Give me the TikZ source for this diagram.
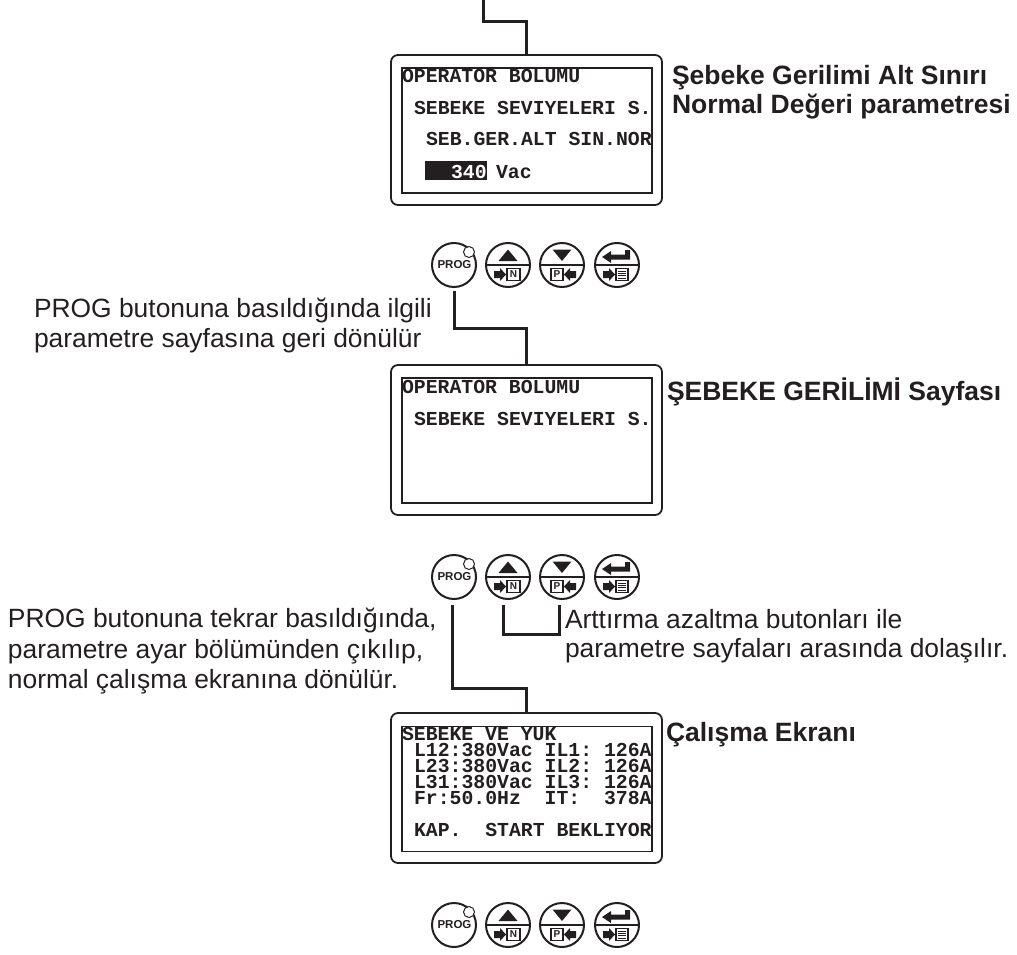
\documentclass[tikz,border=0pt]{standalone}
\usepackage{fontspec}
\setmainfont{Liberation Sans}
\newfontfamily\lcdfont{Liberation Mono}
\definecolor{ink}{HTML}{231F20}
\tikzset{
  panel/.style={draw=ink,line width=1.8pt,rounded corners=7pt,minimum width=271pt,minimum height=150pt,inner sep=0pt,outer sep=0pt},
  screen/.style={draw=ink,line width=1.1pt,minimum width=250pt,minimum height=125pt,inner sep=0pt,outer sep=0pt},
  wire/.style={draw=ink,line width=3pt},
  btn/.style={circle,draw=ink,line width=2pt,minimum size=44pt,inner sep=0pt,outer sep=0pt},
  lcd/.style={anchor=base west,inner sep=0pt,outer sep=0pt,font=\lcdfont\bfseries\fontsize{19.8}{20}\selectfont,text=ink},
  lab/.style={anchor=base west,inner sep=0pt,outer sep=0pt,font=\fontsize{26.4}{30}\selectfont,text=ink},
  blab/.style={lab,font=\bfseries\fontsize{26.5}{30}\selectfont},
  keybox/.style={draw=ink,line width=1.4pt,fill=white},
}
\newcommand{\fatr}[2]{\fill[ink] (#1,#2) ++(-6,-3.5) -- ++(6,0) -- ++(0,-3) -- ++(6,6.5) -- ++(-6,6.5) -- ++(0,-3) -- ++(-6,0) -- cycle;}
\newcommand{\fatl}[2]{\fill[ink] (#1,#2) ++(6,-3.5) -- ++(-6,0) -- ++(0,-3) -- ++(-6,6.5) -- ++(6,6.5) -- ++(0,-3) -- ++(6,0) -- cycle;}
\newcommand{\btnrow}[2]{%
  \node[btn] (#1prog) at (454,#2) {};
  \node[btn] (#1up) at (508,#2) {};
  \node[btn] (#1down) at (562,#2) {};
  \node[btn] (#1enter) at (617,#2) {};
  \node[circle,draw=ink,line width=1pt,fill=white,minimum size=11pt,inner sep=0pt] (#1led) at (469,#2-13) {};
  \node[inner sep=0pt,font=\bfseries\fontsize{11.5}{12}\selectfont,text=ink] (#1progt) at (454.5,#2) {PROG};
  \begin{scope}[shift={(508,#2)}]
    \draw[ink,line width=1.2pt] (-22,0) -- (22,0);
    \fill[ink] (-9.5,-4) -- (9.5,-4) -- (0,-15.5) -- cycle;
    \fatr{-8}{9.5}
    \draw[keybox] (-1,3.5) rectangle (12,15.5);
    \node[inner sep=0pt,font=\bfseries\fontsize{10}{10}\selectfont,text=ink] (#1nt) at (5.5,9.5) {N};
  \end{scope}
  \begin{scope}[shift={(562,#2)}]
    \draw[ink,line width=1.2pt] (-22,0) -- (22,0);
    \fill[ink] (-9.5,-15.5) -- (9.5,-15.5) -- (0,-4) -- cycle;
    \fatl{8}{9.5}
    \draw[keybox] (-11,3.5) rectangle (1,15.5);
    \node[inner sep=0pt,font=\bfseries\fontsize{10}{10}\selectfont,text=ink] (#1pt) at (-5,9.5) {P};
  \end{scope}
  \begin{scope}[shift={(617,#2)}]
    \draw[ink,line width=1.2pt] (-22,0) -- (22,0);
    \fill[ink] (-15,-8) -- (-6,-14) -- (-6,-10.5) -- (8,-10.5) -- (8,-15) -- (13,-15) -- (13,-5.5) -- (-6,-5.5) -- (-6,-2) -- cycle;
    \fatr{-8}{9.5}
    \draw[keybox] (-1,3.5) rectangle (11,15.5);
    \draw[ink,line width=.9pt] (1,6) -- (9,6) (1,8.4) -- (9,8.4) (1,10.8) -- (9,10.8) (1,13.2) -- (9,13.2);
  \end{scope}
}
\begin{document}
\begin{tikzpicture}[x=1pt,y=-1pt]
\useasboundingbox (0,0) rectangle (1017,955);
% panels
\node[panel] (p1) at (526.5,130) {};
\node[screen] (s1) at (527,130.5) {};
\node[panel] (p2) at (526.5,440) {};
\node[screen] (s2) at (527,440.5) {};
\node[panel] (p3) at (526.5,788) {};
\node[screen] (s3) at (527,789) {};
% panel 1 text
\node[lcd] (t11) at (402,83) {OPERATOR BOLUMU};
\node[lcd] (t12) at (414,115) {SEBEKE SEVIYELERI S.};
\node[lcd] (t13) at (426,146) {SEB.GER.ALT SIN.NOR};
\fill[ink] (425,161) rectangle (487,180);
\node[lcd,text=white] (t14) at (451,178) {340};
\node[lcd] (t15) at (496,178) {Vac};
% panel 2 text
\node[lcd] (t21) at (402,393) {OPERATOR BOLUMU};
\node[lcd] (t22) at (414,425) {SEBEKE SEVIYELERI S.};
% panel 3 text
\node[lcd] (t31) at (402,740) {SEBEKE VE YUK};
\node[lcd] (t32) at (414,756) {L12:380Vac IL1:~126A};
\node[lcd] (t33) at (414,772) {L23:380Vac IL2:~126A};
\node[lcd] (t34) at (414,788) {L31:380Vac IL3:~126A};
\node[lcd] (t35) at (414,804) {Fr:50.0Hz~~IT:~~378A};
\node[lcd] (t36) at (414,836) {KAP.~~START BEKLIYOR};
% buttons
\btnrow{ga}{265}
\btnrow{gb}{577}
\btnrow{gc}{925}
% wires
\coordinate (topend) at (483,0);
\draw[wire] (topend) -- ++(0,22) -| (p1.north);
\draw[wire] (gaprog.south) ++(0,4) -- ++(0,37) -| (p2.north);
\draw[wire] (gbprog.south) ++(-1.5,6) -- ++(0,83) -| (p3.north);
\draw[wire] (gbup.south) ++(-5,6) -- ++(0,29) -- ++(56.5,0) -- ++(0,-29);
% labels
\node[blab] (l1) at (672,84.5) {Şebeke Gerilimi Alt Sınırı};
\node[blab] (l2) at (672,114) {Normal Değeri parametresi};
\node[lab] (l3) at (34,317) {PROG butonuna basıldığında ilgili};
\node[lab] (l4) at (34,347) {parametre sayfasına geri dönülür};
\node[blab] (l5) at (667,400) {ŞEBEKE GERİLİMİ Sayfası};
\node[lab] (l6) at (8,627.5) {PROG butonuna tekrar basıldığında,};
\node[lab] (l7) at (8,658) {parametre ayar bölümünden çıkılıp,};
\node[lab] (l8) at (8,688) {normal çalışma ekranına dönülür.};
\node[lab] (l9) at (565,628) {Arttırma azaltma butonları ile};
\node[lab] (l10) at (565,657.5) {parametre sayfaları arasında dolaşılır.};
\node[blab] (l11) at (666,741) {Çalışma Ekranı};
\end{tikzpicture}
\end{document}
